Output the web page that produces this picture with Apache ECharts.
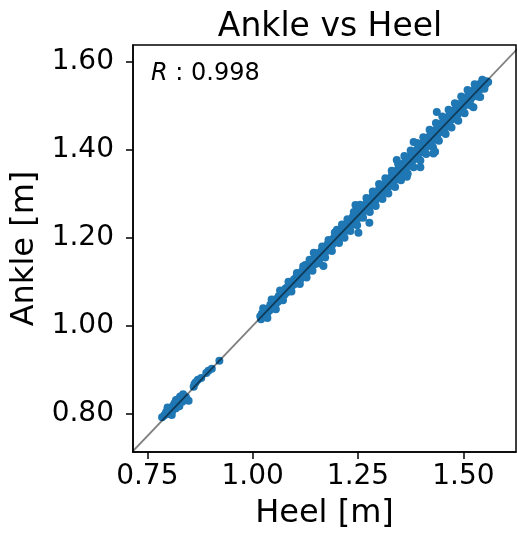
<!DOCTYPE html>
<html>
<head>
    <meta charset="utf-8">
    <title>Ankle vs Heel</title>
    <script src="https://cdn.jsdelivr.net/npm/echarts@6/dist/echarts.min.js"></script>
    <style>
        html, body { margin: 0; padding: 0; background: #fff; }
        #chart { width: 517px; height: 535px; }
    </style>
</head>
<body>
    <div id="chart"></div>
    <script>
        // heel [m], ankle [m]
        var points = [
            [0.785, 0.793], [0.790, 0.797], [0.793, 0.800], [0.795, 0.805], [0.800, 0.800], [0.800, 0.810],
            [0.803, 0.806], [0.805, 0.812], [0.808, 0.815], [0.810, 0.808], [0.812, 0.820], [0.815, 0.818],
            [0.815, 0.825], [0.818, 0.813], [0.820, 0.822], [0.822, 0.830], [0.825, 0.835], [0.828, 0.840],
            [0.830, 0.832], [0.833, 0.828], [0.838, 0.835], [0.845, 0.832], [0.848, 0.830],
            [0.798, 0.815], [0.808, 0.798], [0.818, 0.832], [0.826, 0.818], [0.835, 0.845], [0.842, 0.838],
            [0.860, 0.862], [0.862, 0.868], [0.865, 0.872], [0.870, 0.878], [0.878, 0.882], [0.890, 0.893],
            [0.895, 0.898], [0.903, 0.903], [0.921, 0.921],
            [1.018, 1.022], [1.020, 1.015], [1.022, 1.028], [1.025, 1.020], [1.027, 1.032], [1.030, 1.025],
            [1.032, 1.035], [1.035, 1.030], [1.038, 1.040], [1.040, 1.035], [1.042, 1.048], [1.045, 1.040],
            [1.048, 1.052], [1.050, 1.045], [1.053, 1.058], [1.055, 1.050], [1.058, 1.062], [1.060, 1.055],
            [1.062, 1.068], [1.065, 1.060], [1.068, 1.072], [1.070, 1.065], [1.072, 1.078], [1.075, 1.070],
            [1.078, 1.085], [1.080, 1.075], [1.083, 1.088], [1.085, 1.080], [1.088, 1.095], [1.090, 1.085],
            [1.093, 1.098], [1.095, 1.092], [1.098, 1.105], [1.100, 1.095], [1.103, 1.110], [1.105, 1.100],
            [1.108, 1.112], [1.110, 1.118], [1.113, 1.105], [1.115, 1.120], [1.118, 1.125], [1.120, 1.112],
            [1.123, 1.128], [1.125, 1.138], [1.128, 1.120], [1.130, 1.135], [1.133, 1.140], [1.135, 1.128],
            [1.138, 1.145], [1.140, 1.135], [1.145, 1.166], [1.143, 1.150], [1.148, 1.140], [1.150, 1.155],
            [1.153, 1.160], [1.155, 1.148], [1.158, 1.165], [1.160, 1.155], [1.163, 1.170], [1.168, 1.136],
            [1.165, 1.162], [1.170, 1.175], [1.173, 1.168], [1.175, 1.180], [1.178, 1.185], [1.180, 1.172],
            [1.183, 1.190], [1.185, 1.180], [1.188, 1.195], [1.190, 1.185], [1.193, 1.200], [1.195, 1.190],
            [1.200, 1.218], [1.198, 1.205], [1.202, 1.198], [1.205, 1.210], [1.208, 1.215], [1.210, 1.205],
            [1.213, 1.220], [1.215, 1.210], [1.218, 1.225], [1.220, 1.215], [1.223, 1.230], [1.225, 1.220],
            [1.228, 1.235], [1.230, 1.225], [1.233, 1.240], [1.235, 1.230], [1.238, 1.248], [1.240, 1.235],
            [1.244, 1.274], [1.242, 1.250], [1.245, 1.240], [1.248, 1.262], [1.251, 1.211], [1.250, 1.255],
            [1.253, 1.245], [1.255, 1.262], [1.258, 1.252], [1.260, 1.268], [1.262, 1.258], [1.265, 1.272],
            [1.268, 1.262], [1.270, 1.278], [1.272, 1.268], [1.275, 1.282], [1.277, 1.234], [1.278, 1.272],
            [1.280, 1.288], [1.282, 1.278], [1.285, 1.295], [1.287, 1.282], [1.290, 1.298], [1.292, 1.285],
            [1.295, 1.302], [1.297, 1.292], [1.300, 1.310], [1.302, 1.298], [1.305, 1.312], [1.307, 1.300],
            [1.310, 1.318], [1.312, 1.305], [1.315, 1.322], [1.317, 1.310], [1.320, 1.328], [1.322, 1.315],
            [1.325, 1.332], [1.327, 1.320], [1.330, 1.340], [1.332, 1.325], [1.335, 1.345], [1.337, 1.330],
            [1.340, 1.350], [1.342, 1.376], [1.343, 1.335], [1.345, 1.355], [1.348, 1.342], [1.350, 1.360],
            [1.352, 1.348], [1.355, 1.365], [1.358, 1.350], [1.360, 1.370], [1.362, 1.355], [1.366, 1.338],
            [1.365, 1.375], [1.368, 1.362], [1.370, 1.380], [1.372, 1.368], [1.375, 1.385], [1.378, 1.372],
            [1.380, 1.390], [1.382, 1.417], [1.383, 1.378], [1.385, 1.395], [1.388, 1.382], [1.390, 1.400],
            [1.392, 1.388], [1.395, 1.405], [1.398, 1.360], [1.397, 1.392], [1.400, 1.410], [1.402, 1.398],
            [1.405, 1.415], [1.407, 1.400], [1.410, 1.420], [1.412, 1.405], [1.415, 1.425], [1.417, 1.410],
            [1.420, 1.430], [1.422, 1.415], [1.425, 1.435], [1.427, 1.420], [1.429, 1.391], [1.430, 1.440],
            [1.433, 1.395], [1.432, 1.428], [1.435, 1.445], [1.437, 1.485], [1.438, 1.432], [1.440, 1.450],
            [1.442, 1.438], [1.445, 1.455], [1.447, 1.440], [1.450, 1.460], [1.452, 1.445], [1.455, 1.465],
            [1.457, 1.450], [1.460, 1.470], [1.462, 1.458], [1.465, 1.475], [1.467, 1.462], [1.470, 1.480],
            [1.472, 1.468], [1.475, 1.485], [1.477, 1.470], [1.480, 1.490], [1.482, 1.478], [1.485, 1.495],
            [1.487, 1.480], [1.490, 1.500], [1.492, 1.488], [1.495, 1.505], [1.497, 1.492], [1.500, 1.510],
            [1.502, 1.498], [1.505, 1.515], [1.508, 1.505], [1.510, 1.520], [1.513, 1.510], [1.515, 1.525],
            [1.518, 1.515], [1.520, 1.530], [1.524, 1.496], [1.523, 1.520], [1.525, 1.535], [1.528, 1.525],
            [1.530, 1.540], [1.533, 1.530], [1.535, 1.545], [1.538, 1.535], [1.540, 1.519], [1.540, 1.549],
            [1.543, 1.540], [1.545, 1.548], [1.548, 1.545], [1.550, 1.552], [1.553, 1.548], [1.555, 1.555],
            [1.559, 1.553],
            [1.025, 1.040], [1.035, 1.018], [1.045, 1.060], [1.055, 1.038], [1.065, 1.080], [1.072, 1.058],
            [1.085, 1.100], [1.092, 1.078], [1.105, 1.120], [1.112, 1.095], [1.120, 1.135], [1.128, 1.110],
            [1.135, 1.150], [1.142, 1.125], [1.150, 1.165], [1.158, 1.142], [1.165, 1.180], [1.172, 1.155],
            [1.180, 1.195], [1.188, 1.170], [1.195, 1.212], [1.205, 1.188], [1.212, 1.230], [1.218, 1.200],
            [1.225, 1.242], [1.232, 1.215], [1.240, 1.258], [1.248, 1.228], [1.255, 1.275], [1.262, 1.245],
            [1.270, 1.290], [1.278, 1.258], [1.285, 1.305], [1.292, 1.272], [1.300, 1.322], [1.308, 1.288],
            [1.315, 1.335], [1.322, 1.300], [1.330, 1.352], [1.338, 1.315], [1.345, 1.368], [1.352, 1.330],
            [1.360, 1.385], [1.368, 1.345], [1.375, 1.398], [1.382, 1.360], [1.390, 1.415], [1.398, 1.375],
            [1.405, 1.428], [1.412, 1.390], [1.420, 1.445], [1.428, 1.405], [1.435, 1.460], [1.442, 1.420],
            [1.450, 1.475], [1.458, 1.435], [1.465, 1.490], [1.472, 1.450], [1.480, 1.505], [1.488, 1.465],
            [1.495, 1.520], [1.503, 1.482], [1.510, 1.535], [1.518, 1.500], [1.527, 1.548], [1.535, 1.520],
            [1.545, 1.558], [1.550, 1.538]
        ];
        var xTicks = [0.75, 1.00, 1.25, 1.50];
        var yTicks = [0.80, 1.00, 1.20, 1.40, 1.60];
        var identity = [0.6, 1.7];
        var rText = '0.998';

        var font = 'DejaVu Sans';
        var chart = echarts.init(document.getElementById('chart'));
        chart.setOption({
            animation: false,
            textStyle: { fontFamily: font },
            title: {
                text: 'Ankle vs Heel',
                left: 325, top: 6, textAlign: 'center',
                textStyle: { fontFamily: font, fontSize: 33, fontWeight: 'normal', color: '#000' }
            },
            grid: {
                left: 133, right: 1, top: 45, bottom: 83,
                show: true, borderColor: '#000', borderWidth: 1.5,
                outerBoundsMode: 'none'
            },
            graphic: [{
                type: 'text', left: 151, top: 62,
                style: {
                    text: '{i|R} : ' + rText,
                    rich: { i: { fontStyle: 'italic', fontSize: 24, fontFamily: font, fill: '#000' } },
                    fontSize: 24, fontFamily: font, fill: '#000'
                }
            }],
            xAxis: {
                type: 'value', min: 0.716, max: 1.625,
                name: 'Heel [m]', nameLocation: 'middle', nameGap: 46,
                nameTextStyle: { fontSize: 32, color: '#000', fontFamily: font },
                axisLine: { show: true, lineStyle: { color: '#000', width: 1.5 } },
                axisTick: { show: true, customValues: xTicks, length: 7, lineStyle: { color: '#000', width: 1.5 } },
                axisLabel: {
                    customValues: xTicks, fontSize: 28, color: '#000', margin: 11,
                    formatter: function (v) { return v.toFixed(2); }
                },
                splitLine: { show: false }
            },
            yAxis: {
                type: 'value', min: 0.714, max: 1.637,
                name: 'Ankle [m]', nameLocation: 'middle', nameGap: 87, nameRotate: 90,
                nameTextStyle: { fontSize: 32, color: '#000', fontFamily: font },
                axisLine: { show: true, lineStyle: { color: '#000', width: 1.5 } },
                axisTick: { show: true, customValues: yTicks, length: 7, lineStyle: { color: '#000', width: 1.5 } },
                axisLabel: {
                    customValues: yTicks, fontSize: 28, color: '#000', margin: 19,
                    formatter: function (v) { return v.toFixed(2); }
                },
                splitLine: { show: false }
            },
            series: [{
                type: 'scatter',
                data: points,
                symbolSize: 8,
                itemStyle: { color: '#1f77b4', opacity: 1 },
                z: 2
            }, {
                // y = x, semi-transparent black drawn over the points
                type: 'line',
                data: [[identity[0], identity[0]], [identity[1], identity[1]]],
                symbol: 'none', clip: true, silent: true,
                lineStyle: { color: 'rgba(0,0,0,0.5)', width: 1.8 },
                z: 3
            }]
        });
    </script>
</body>
</html>
